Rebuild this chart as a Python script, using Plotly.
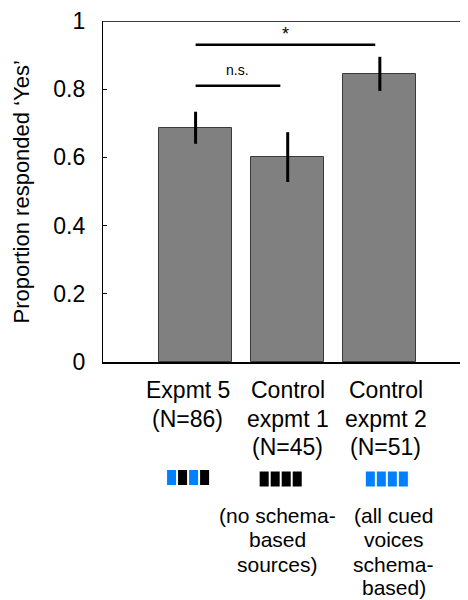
import plotly.graph_objects as go

categories = ["Expmt 5", "Control expmt 1", "Control expmt 2"]
values = [0.687, 0.601, 0.845]
errors = [0.047, 0.073, 0.050]
ytick_vals = [0, 0.2, 0.4, 0.6, 0.8, 1]
ytick_text = ["0", "0.2", "0.4", "0.6", "0.8", "1"]
label_top = [["Expmt 5", "(N=86)"], ["Control", "expmt 1", "(N=45)"], ["Control", "expmt 2", "(N=51)"]]
label_bottom = [[], ["(no schema-", "based", "sources)"], ["(all cued", "voices", "schema-", "based)"]]
patterns = [["blue", "black", "blue", "black"], ["black"] * 4, ["blue"] * 4]
sig_pairs = [(0, 0.92, 0.81, "n.s."), (0, 1.95, 0.93, "*")]

OFF = 8  # page body margin
W, H = 468 - OFF, 600 - OFF
L, T = 103 - OFF, 21 - OFF
B = H - (362 - OFF)
plot_h = 341
FONT = "Liberation Sans, Arial, sans-serif"
BLUE = "#0080FF"
xs = list(range(len(categories)))

def py2paper(py):
    # py measured in window pixels
    return (362 - py) / plot_h

fig = go.Figure()
fig.add_trace(go.Bar(
    x=xs, y=values, width=0.79,
    marker=dict(color="#808080", line=dict(color="#3a3a3a", width=1)),
    error_y=dict(type="data", array=errors, color="black", thickness=3, width=0),
    hoverinfo="skip",
))

shapes = []
annotations = []
shapes.append(dict(type="line", xref="paper", yref="y", x0=0, x1=1, y0=1, y1=1,
                   line=dict(color="black", width=1.3)))
for x0, x1, y, txt in sig_pairs:
    shapes.append(dict(type="line", xref="x", yref="y", x0=x0, x1=x1, y0=y, y1=y,
                       line=dict(color="black", width=2.5)))
    annotations.append(dict(x=(x0 + x1) / 2, y=y, xref="x", yref="y", text=txt,
                            showarrow=False, yanchor="bottom", yshift=6 if txt == "n.s." else -1,
                            font=dict(family=FONT, size=14 if txt == "n.s." else 18, color="black")))

top_x_shift = [-8, 0, 6]
top_rows = [390, 419, 447]
for i, lines in enumerate(label_top):
    for j, line in enumerate(lines):
        annotations.append(dict(x=xs[i], xshift=top_x_shift[i], y=py2paper(top_rows[j]),
                                xref="x", yref="paper", text=line, showarrow=False,
                                xanchor="center", yanchor="middle",
                                font=dict(family=FONT, size=23, color="black")))
bot_x_shift = [0, -10, 14]
bot_rows = [515, 539, 564, 587]
for i, lines in enumerate(label_bottom):
    for j, line in enumerate(lines):
        annotations.append(dict(x=xs[i], xshift=bot_x_shift[i], y=py2paper(bot_rows[j]),
                                xref="x", yref="paper", text=line, showarrow=False,
                                xanchor="center", yanchor="middle",
                                font=dict(family=FONT, size=21, color="black")))

px_per_unit = 92.0
box_centers_px = [-7.5, -7, 7]
box_w, box_pitch = 9, 11
box_top = [470, 471.5, 471.5]
for i, pat in enumerate(patterns):
    n = len(pat)
    start = box_centers_px[i] - (n * box_pitch - (box_pitch - box_w)) / 2
    for k, c in enumerate(pat):
        x0p = start + k * box_pitch
        shapes.append(dict(type="rect", xref="x", yref="paper",
                           x0=xs[i] + x0p / px_per_unit, x1=xs[i] + (x0p + box_w) / px_per_unit,
                           y0=py2paper(box_top[i] + 15), y1=py2paper(box_top[i]),
                           fillcolor=BLUE if c == "blue" else "black", line=dict(width=0)))

annotations.append(dict(x=(22 - 103) / 365, y=0.497, xref="paper", yref="paper",
                        text="Proportion responded \u2018Yes\u2019", textangle=-90, showarrow=False,
                        xanchor="center", yanchor="middle",
                        font=dict(family=FONT, size=22, color="black")))

fig.update_layout(
    width=W, height=H,
    margin=dict(l=L, r=0, t=T, b=B, autoexpand=False),
    plot_bgcolor="white", paper_bgcolor="white",
    showlegend=False,
    shapes=shapes, annotations=annotations,
    bargap=0,
)
fig.update_xaxes(range=[-1.005, 2.957], showticklabels=False, showgrid=False, zeroline=False,
                 showline=True, linecolor="black", linewidth=2.3, ticks="")
fig.update_yaxes(range=[0, 1], tickvals=ytick_vals, ticktext=ytick_text, showgrid=False,
                 zeroline=False, showline=True, linecolor="black", linewidth=1.3,
                 ticks="inside", ticklen=4, tickcolor="black", tickwidth=1,
                 ticklabelstandoff=12,
                 tickfont=dict(family=FONT, size=23, color="black"))

fig.write_html("out.html")
